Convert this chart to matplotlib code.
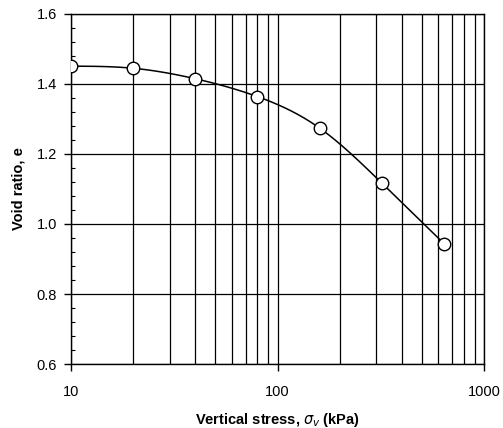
import numpy as np
import matplotlib.pyplot as plt
from matplotlib.ticker import FixedLocator, MultipleLocator, FuncFormatter, LogLocator

plt.rcParams['font.family'] = ['Liberation Sans', 'DejaVu Sans']
plt.rcParams['mathtext.fontset'] = 'dejavusans'

# data
stress = [10, 20, 40, 80, 160, 320, 640]
void_ratio = [1.451, 1.445, 1.415, 1.364, 1.274, 1.117, 0.944]


def natural_spline(x, y, xs):
    # natural cubic spline, only used to draw the smooth line
    x = np.asarray(x, float)
    y = np.asarray(y, float)
    n = len(x)
    h = np.diff(x)
    A = np.zeros((n, n))
    b = np.zeros(n)
    A[0, 0] = A[-1, -1] = 1
    for i in range(1, n - 1):
        A[i, i - 1] = h[i - 1]
        A[i, i] = 2 * (h[i - 1] + h[i])
        A[i, i + 1] = h[i]
        b[i] = 3 * ((y[i + 1] - y[i]) / h[i] - (y[i] - y[i - 1]) / h[i - 1])
    c = np.linalg.solve(A, b)
    out = np.empty_like(xs)
    for k, xv in enumerate(xs):
        i = min(np.searchsorted(x, xv, side="right") - 1, n - 2)
        i = max(i, 0)
        dx = xv - x[i]
        bi = (y[i + 1] - y[i]) / h[i] - h[i] * (2 * c[i] + c[i + 1]) / 3
        di = (c[i + 1] - c[i]) / (3 * h[i])
        out[k] = y[i] + bi * dx + c[i] * dx ** 2 + di * dx ** 3
    return out


lx = np.log10(stress)
xs = np.linspace(lx[0], lx[-1], 300)
ys = natural_spline(lx, void_ratio, xs)

fig = plt.figure(figsize=(5.03, 4.28), dpi=100)
ax = fig.add_axes([71 / 503, 1 - 364 / 428, (484 - 71) / 503, (364 - 14) / 428])

ax.plot(10 ** xs, ys, color="black", lw=1.1, zorder=3)
ax.plot(stress, void_ratio, "o", ms=9, mfc="white", mec="black", mew=1.0, zorder=4)

ax.set_xscale("log")
ax.set_xlim(10, 1000)
ax.set_ylim(0.6, 1.6)

ax.xaxis.set_major_locator(FixedLocator([10, 100, 1000]))
ax.xaxis.set_minor_locator(LogLocator(base=10, subs=range(2, 10)))
ax.xaxis.set_major_formatter(FuncFormatter(lambda v, p: f"{v:g}"))
ax.xaxis.set_minor_formatter(FuncFormatter(lambda v, p: ""))
ax.yaxis.set_major_locator(MultipleLocator(0.2))
ax.yaxis.set_minor_locator(MultipleLocator(0.04))
ax.yaxis.set_major_formatter(FuncFormatter(lambda v, p: f"{v:.1f}"))

ax.grid(True, which="major", axis="y", color="black", lw=0.9)
ax.grid(True, which="both", axis="x", color="black", lw=0.9)

ax.tick_params(axis="both", which="major", direction="out", length=5, width=1,
               labelsize=10.5, pad=5)
ax.tick_params(axis="x", which="major", pad=10)
ax.tick_params(axis="x", which="minor", length=0)
ax.tick_params(axis="y", which="minor", direction="in", length=3, width=0.8)
for s in ax.spines.values():
    s.set_linewidth(1.0)

ax.set_ylabel("Void ratio, e", fontsize=10.5, fontweight="bold", labelpad=8)
ax.set_xlabel(r"Vertical stress, $\sigma_v$ (kPa)", fontsize=10.5, fontweight="bold",
              labelpad=9)

fig.savefig("out.png", dpi=100)
